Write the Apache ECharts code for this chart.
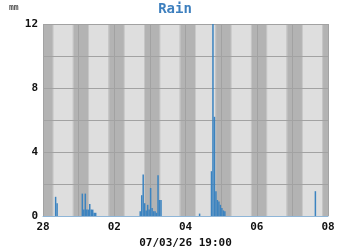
<!DOCTYPE html>
<html><head><meta charset="utf-8">
<script src="https://cdn.jsdelivr.net/npm/echarts@6/dist/echarts.min.js"></script>
<style>html,body{margin:0;padding:0;background:#fff}#c{width:350px;height:250px}</style>
</head><body><div id="c"></div>
<script>
// Hourly rain totals (mm), timestamp = start of hour
const rainTimes = [
  '2026-02-28 08:00','2026-02-28 09:00',
  '2026-03-01 02:00','2026-03-01 03:00','2026-03-01 04:00','2026-03-01 05:00','2026-03-01 06:00',
  '2026-03-01 07:00','2026-03-01 08:00','2026-03-01 09:00','2026-03-01 10:00','2026-03-01 11:00',
  '2026-03-02 17:00','2026-03-02 18:00','2026-03-02 19:00','2026-03-02 20:00','2026-03-02 21:00',
  '2026-03-02 22:00','2026-03-02 23:00','2026-03-03 00:00','2026-03-03 01:00','2026-03-03 02:00',
  '2026-03-03 03:00','2026-03-03 04:00','2026-03-03 05:00','2026-03-03 06:00','2026-03-03 07:00',
  '2026-03-04 09:00',
  '2026-03-04 17:00','2026-03-04 18:00','2026-03-04 19:00','2026-03-04 20:00','2026-03-04 21:00',
  '2026-03-04 22:00','2026-03-04 23:00','2026-03-05 00:00','2026-03-05 01:00','2026-03-05 02:00',
  '2026-03-07 15:00'
];
const rainValues = [
  1.2, 0.8,
  1.4, 0.4, 1.4, 0.4, 0.4,
  0.75, 0.4, 0.4, 0.2, 0.2,
  0.3, 1.3, 2.6, 0.8, 0.35,
  0.7, 0.4, 1.75, 0.5, 0.3,
  0.3, 0.2, 2.55, 1.0, 1.0,
  0.15,
  2.8, 12, 6.2, 1.55, 1.0,
  0.9, 0.7, 0.5, 0.35, 0.3,
  1.55
];
const startDate = '2026-02-28 00:00';
const numDays = 8;
const xTickLabels = ['28', '02', '04', '06', '08'];
const yTickLabels = ['0', '4', '8', '12'];
const sunrise = 7.0, sunset = 20.1;       // hours of day (light band)
const dawn = 6.4, dusk = 20.7;             // twilight edges
const nowLabel = '07/03/26 19:00';

function parseT(s) {
  const [d, t] = s.split(' ');
  const [Y, M, D] = d.split('-').map(Number);
  const [h, m] = t.split(':').map(Number);
  return Date.UTC(Y, M - 1, D, h, m);
}
const t0 = parseT(startDate);
const toHours = s => (parseT(s) - t0) / 3600000;

const barData = rainTimes.map((t, i) => [toHours(t) + 0.5, rainValues[i]]);

const bands = [];
for (let d = 0; d < numDays; d++) {
  bands.push([d * 24 + dawn, d * 24 + sunrise, 1]);
  bands.push([d * 24 + sunrise, d * 24 + sunset, 0]);
  bands.push([d * 24 + sunset, d * 24 + dusk, 1]);
}

const mono = 'DejaVu Sans Mono';
const chart = echarts.init(document.getElementById('c'), null, {renderer: 'canvas'});
chart.setOption({
  animation: false,
  backgroundColor: '#ffffff',
  title: {
    text: 'Rain', left: 'center', top: -3,
    textStyle: {fontFamily: mono, fontSize: 14, fontWeight: 'bold', color: '#3d7fbe'}
  },
  graphic: [{
    type: 'text', left: 9, top: 4,
    style: {text: 'mm', fontFamily: mono, fontSize: 8, fill: '#555', fontWeight: 'bold'}
  }],
  grid: {left: 43, right: 22, top: 24, bottom: 34, show: true, backgroundColor: '#b3b3b3', borderWidth: 0, z: 0,
         containLabel: false, outerBoundsMode: 'none'},
  xAxis: {
    type: 'value', min: 0, max: numDays * 24, interval: 24, z: 3,
    name: nowLabel, nameLocation: 'middle', nameGap: 18,
    nameTextStyle: {fontFamily: mono, fontSize: 11, fontWeight: 'bold', color: '#111'},
    axisLine: {show: true, lineStyle: {color: '#8fb6d8', width: 1}},
    axisTick: {show: false},
    axisLabel: {
      fontFamily: mono, fontSize: 11, fontWeight: 'bold', color: '#111', margin: 6,
      formatter: v => (v % 48 === 0 ? xTickLabels[v / 48] : '')
    },
    splitLine: {show: true, lineStyle: {color: '#a2a2a2', width: 1}}
  },
  yAxis: {
    type: 'value', min: 0, max: 12, interval: 2, z: 3,
    axisLine: {show: false}, axisTick: {show: false},
    axisLabel: {
      fontFamily: mono, fontSize: 11, fontWeight: 'bold', color: '#111', margin: 5,
      formatter: v => (v % 4 === 0 ? yTickLabels[v / 4] : '')
    },
    splitLine: {show: true, lineStyle: {color: '#a2a2a2', width: 1}}
  },
  series: [{
    type: 'custom', z: 1, silent: true,
    data: bands,
    renderItem: (params, api) => {
      const a = api.coord([api.value(0), 12]);
      const b = api.coord([api.value(1), 0]);
      return {
        type: 'rect',
        shape: {x: a[0], y: a[1], width: b[0] - a[0], height: b[1] - a[1]},
        style: {fill: api.value(2) === 1 ? '#c8c8c8' : '#dedede'}
      };
    }
  }, {
    type: 'bar', z: 4, data: barData, barWidth: 1.5,
    itemStyle: {color: '#3b83c0'}
  }]
});
</script></body></html>
